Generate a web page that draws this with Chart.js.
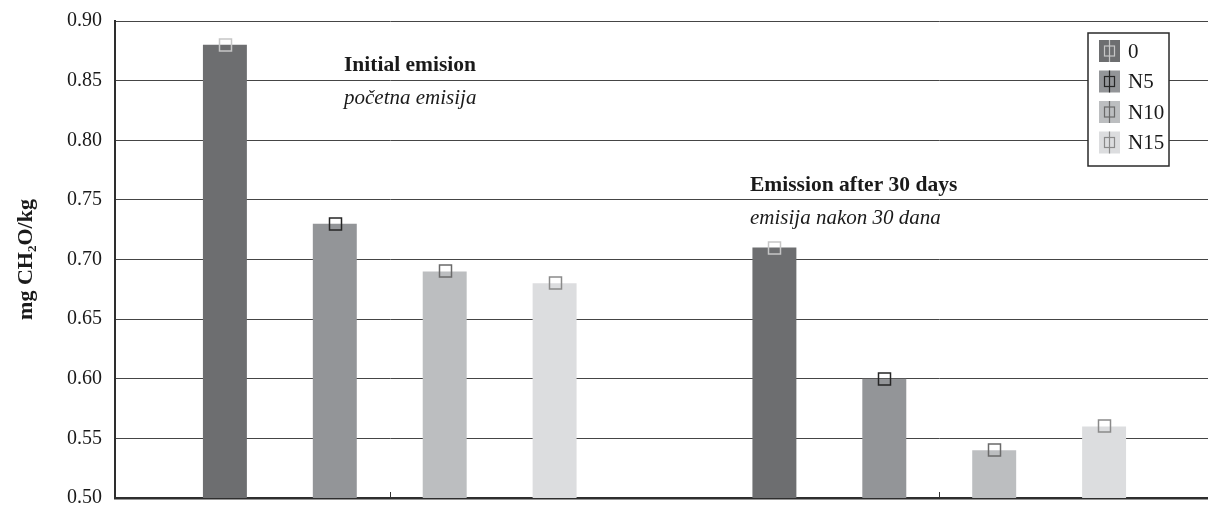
<!DOCTYPE html>
<html>
<head>
<meta charset="utf-8">
<script src="https://cdn.jsdelivr.net/npm/chart.js@4/dist/chart.umd.min.js"></script>
<style>
  html, body { margin: 0; padding: 0; background: #fff; overflow: hidden; }
  #wrap { width: 1214px; height: 508px; overflow: hidden; }
  #c { display: block; margin-top: -4px; }
</style>
</head>
<body>
<div id="wrap"><canvas id="c" width="1214" height="527"></canvas></div>
<script>
// Formaldehyde emission, mg CH2O per kg of board
const periods = ['Initial emision', 'Emission after 30 days'];
const seriesNames = ['0', 'N5', 'N10', 'N15'];
const values0   = [0.88, 0.71];
const valuesN5  = [0.73, 0.60];
const valuesN10 = [0.69, 0.54];
const valuesN15 = [0.68, 0.56];
const yTicks = [0.50, 0.55, 0.60, 0.65, 0.70, 0.75, 0.80, 0.85, 0.90];

const barColors    = ['#6d6e70', '#939598', '#bcbec0', '#dcdddf'];
const markerColors = ['#c6c6c6', '#262626', '#6a6a6a', '#8a8a8a'];

const SERIF = '"Liberation Serif", "Times New Roman", serif';

// group captions: bold English line + italic Croatian line
const captions = [
  { bold: 'Initial emision', italic: 'početna emisija', x: 344, y: 75 },
  { bold: 'Emission after 30 days', italic: 'emisija nakon 30 dana', x: 750, y: 195 }
];

// open square marker with its (very short) error bar at each bar top
const markerPlugin = {
  id: 'markers',
  afterDatasetsDraw(chart) {
    const ctx = chart.ctx;
    chart.data.datasets.forEach((ds, i) => {
      const meta = chart.getDatasetMeta(i);
      meta.data.forEach(el => {
        ctx.save();
        ctx.strokeStyle = markerColors[i];
        ctx.lineWidth = 1.5;
        ctx.strokeRect(Math.round(el.x) - 5.5, Math.round(el.y) - 6, 12, 12);
        ctx.restore();
      });
    });
  }
};

// small upward tick marks at category centres on the bottom axis
const xTickPlugin = {
  id: 'xTicks',
  afterDraw(chart) {
    const ctx = chart.ctx;
    const xs = chart.scales.x;
    const bottom = chart.chartArea.bottom;
    ctx.save();
    ctx.strokeStyle = '#333';
    ctx.lineWidth = 1;
    xs.ticks.forEach((t, i) => {
      const px = Math.round(xs.getPixelForTick(i)) + 0.5;
      ctx.beginPath();
      ctx.moveTo(px, bottom);
      ctx.lineTo(px, bottom - 6);
      ctx.stroke();
    });
    ctx.restore();
  }
};

const captionPlugin = {
  id: 'captions',
  afterDraw(chart) {
    const ctx = chart.ctx;
    ctx.save();
    ctx.fillStyle = '#1a1a1a';
    ctx.textBaseline = 'alphabetic';
    ctx.textAlign = 'left';
    captions.forEach(c => {
      ctx.font = 'bold 21.5px ' + SERIF;
      ctx.fillText(c.bold, c.x, c.y);
      ctx.font = 'italic 21px ' + SERIF;
      ctx.fillText(c.italic, c.x, c.y + 33);
    });
    ctx.restore();
  }
};

// boxed legend with swatch, error bar and marker
const legendPlugin = {
  id: 'boxLegend',
  afterDraw(chart) {
    const ctx = chart.ctx;
    const box = { x: 1088, y: 37, w: 81, h: 133 };
    ctx.save();
    ctx.fillStyle = '#fff';
    ctx.fillRect(box.x, box.y, box.w, box.h);
    ctx.strokeStyle = '#2a2a2a';
    ctx.lineWidth = 1.5;
    ctx.strokeRect(box.x, box.y, box.w, box.h);
    chart.data.datasets.forEach((ds, i) => {
      const sx = 1099, sy = 44 + i * 30.5, sw = 21, sh = 22;
      ctx.fillStyle = barColors[i];
      ctx.fillRect(sx, sy, sw, sh);
      ctx.strokeStyle = markerColors[i];
      ctx.lineWidth = 1.2;
      ctx.beginPath();
      ctx.moveTo(sx + sw / 2, sy);
      ctx.lineTo(sx + sw / 2, sy + sh);
      ctx.stroke();
      ctx.strokeRect(sx + sw / 2 - 5, sy + sh / 2 - 5, 10, 10);
      ctx.fillStyle = '#1a1a1a';
      ctx.font = '21px ' + SERIF;
      ctx.textBaseline = 'middle';
      ctx.fillText(ds.label, 1128, sy + sh / 2 + 1);
    });
    ctx.restore();
  }
};

const allValues = [values0, valuesN5, valuesN10, valuesN15];

new Chart(document.getElementById('c'), {
  type: 'bar',
  data: {
    labels: periods,
    datasets: seriesNames.map((name, i) => ({
      label: name,
      data: allValues[i],
      backgroundColor: barColors[i],
      borderWidth: 0,
      categoryPercentage: 0.8,
      barPercentage: 0.4
    }))
  },
  options: {
    responsive: false,
    animation: false,
    devicePixelRatio: 1,
    layout: { padding: { top: 18, bottom: 0, left: 0, right: 0 } },
    plugins: { legend: { display: false }, tooltip: { enabled: false } },
    scales: {
      x: {
        ticks: { display: false },
        grid: { display: false },
        border: { display: true, color: '#2e2e2e', width: 2.5 },
        afterFit(scale) { scale.height = 0; }
      },
      y: {
        min: 0.5,
        max: 0.9,
        afterBuildTicks(scale) { scale.ticks = yTicks.map(v => ({ value: v })); },
        ticks: {
          color: '#1a1a1a',
          font: { family: SERIF, size: 20 },
          padding: 13,
          callback: v => Number(v).toFixed(2)
        },
        grid: { color: '#454545', lineWidth: 1, drawTicks: false },
        border: { display: true, color: '#2e2e2e', width: 2 },
        title: {
          display: true,
          text: 'mg CH₂O/kg',
          color: '#1a1a1a',
          font: { family: SERIF, size: 22, weight: 'bold' },
          padding: { top: 13, bottom: 0 }
        },
        afterFit(scale) { scale.width = 115; }
      }
    }
  },
  plugins: [markerPlugin, xTickPlugin, captionPlugin, legendPlugin]
});
</script>
</body>
</html>
